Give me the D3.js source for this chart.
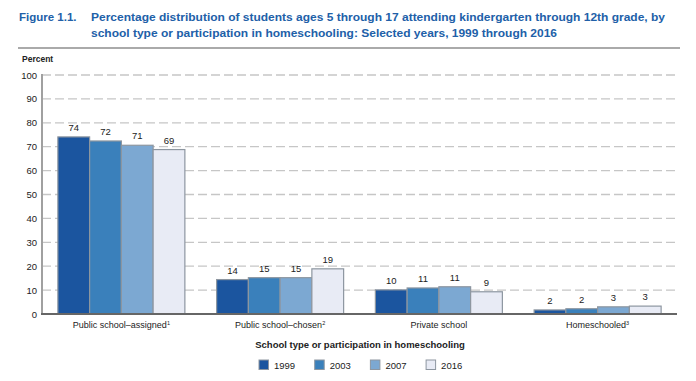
<!DOCTYPE html>
<html><head><meta charset="utf-8">
<script src="https://cdn.jsdelivr.net/npm/d3@7"></script>
<style>body{margin:0;background:#fff}svg{display:block;font-family:"Liberation Sans",Arial,sans-serif}</style>
</head><body><svg id="c" width="696" height="381"></svg>
<script>
const categories = ["Public school–assigned", "Public school–chosen", "Private school", "Homeschooled"];
const footnotes = ["1", "2", "", "3"];
const years = ["1999", "2003", "2007", "2016"];
const v1999 = [74.1, 14.4, 10.1, 1.7];
const v2003 = [72.4, 15.2, 10.9, 2.2];
const v2007 = [70.6, 15.2, 11.4, 3.0];
const v2016 = [68.8, 18.9, 9.3, 3.3];
const yTicks = [0, 10, 20, 30, 40, 50, 60, 70, 80, 90, 100];
const colors = ["#1b559f", "#3a80bb", "#7ca8d2", "#e8ebf5"];

const series = [v1999, v2003, v2007, v2016];
const svg = d3.select("#c");
const titleColor = "#2160a8";

// Title
svg.append("text").attr("x", 19).attr("y", 21).attr("font-size", 11.5).attr("font-weight", "bold")
  .attr("fill", titleColor).text("Figure 1.1.");
svg.append("text").attr("x", 91).attr("y", 21).attr("font-size", 11.5).attr("font-weight", "bold")
  .attr("fill", titleColor).attr("textLength", 574).attr("lengthAdjust", "spacingAndGlyphs")
  .text("Percentage distribution of students ages 5 through 17 attending kindergarten through 12th grade, by");
svg.append("text").attr("x", 91).attr("y", 36.5).attr("font-size", 11.5).attr("font-weight", "bold")
  .attr("fill", titleColor).attr("textLength", 466).attr("lengthAdjust", "spacingAndGlyphs")
  .text("school type or participation in homeschooling: Selected years, 1999 through 2016");
svg.append("line").attr("x1", 18).attr("x2", 680).attr("y1", 48).attr("y2", 48)
  .attr("stroke", "#aaaaaa").attr("stroke-width", 2);

svg.append("text").attr("x", 22).attr("y", 62).attr("font-size", 8.5).attr("font-weight", "bold")
  .attr("fill", "#222").text("Percent");

const x0 = d3.scaleBand().domain(categories).range([42, 677]).paddingInner(0.2).paddingOuter(0.1);
const x1 = d3.scaleBand().domain(years).range([0, x0.bandwidth()]);
const y = d3.scaleLinear().domain([0, 100]).range([314, 75]);

// gridlines
svg.append("g").selectAll("line").data(yTicks.filter(d => d > 0)).join("line")
  .attr("x1", 42).attr("x2", 677).attr("y1", d => y(d)).attr("y2", d => y(d))
  .attr("stroke", "#c6c6c6").attr("stroke-width", 1.3).attr("stroke-dasharray", "9,4");

// y axis
const yAxis = d3.axisLeft(y).tickValues(yTicks).tickSize(0).tickPadding(5);
const gy = svg.append("g").attr("transform", "translate(42,0)").call(yAxis);
gy.select(".domain").remove();
gy.selectAll("text").attr("font-size", 9.5).attr("fill", "#222").attr("font-family", "Liberation Sans, Arial, sans-serif");
svg.append("line").attr("x1", 42).attr("x2", 42).attr("y1", 74).attr("y2", 314)
  .attr("stroke", "#a0a0a0").attr("stroke-width", 2);

// bars
const groups = svg.append("g").selectAll("g").data(categories).join("g")
  .attr("transform", d => `translate(${x0(d)},0)`);
groups.selectAll("rect").data((d, i) => years.map((yr, j) => ({yr, j, v: series[j][i]}))).join("rect")
  .attr("x", d => x1(d.yr)).attr("width", x1.bandwidth())
  .attr("y", d => y(d.v)).attr("height", d => y(0) - y(d.v))
  .attr("fill", d => colors[d.j]).attr("stroke", "#8d96a0").attr("stroke-width", 1.2);
groups.selectAll("text").data((d, i) => years.map((yr, j) => ({yr, j, v: series[j][i]}))).join("text")
  .attr("x", d => x1(d.yr) + x1.bandwidth() / 2).attr("y", d => y(d.v) - 6)
  .attr("text-anchor", "middle").attr("font-size", 9.5).attr("fill", "#222")
  .text(d => Math.round(d.v));

// x baseline
svg.append("line").attr("x1", 41).attr("x2", 677).attr("y1", 314).attr("y2", 314)
  .attr("stroke", "#666").attr("stroke-width", 2.2);

// x labels
const xl = svg.append("g").selectAll("text").data(categories).join("text")
  .attr("x", d => x0(d) + x0.bandwidth() / 2).attr("y", 328)
  .attr("text-anchor", "middle").attr("font-size", 9).attr("fill", "#222");
xl.append("tspan").text(d => d);
xl.append("tspan").attr("font-size", 5.5).attr("dy", -3.5).text((d, i) => footnotes[i]);

svg.append("text").attr("x", 360).attr("y", 348).attr("text-anchor", "middle")
  .attr("font-size", 9.5).attr("font-weight", "bold").attr("fill", "#222")
  .text("School type or participation in homeschooling");

// legend
const lg = svg.append("g").selectAll("g").data(years).join("g")
  .attr("transform", (d, i) => `translate(${259 + i * 55.7},360)`);
lg.append("rect").attr("width", 9.5).attr("height", 9.5).attr("fill", (d, i) => colors[i])
  .attr("stroke", "#8d96a0").attr("stroke-width", 1);
lg.append("text").attr("x", 15).attr("y", 8.7).attr("font-size", 9.5).attr("fill", "#222").text(d => d);
</script></body></html>
